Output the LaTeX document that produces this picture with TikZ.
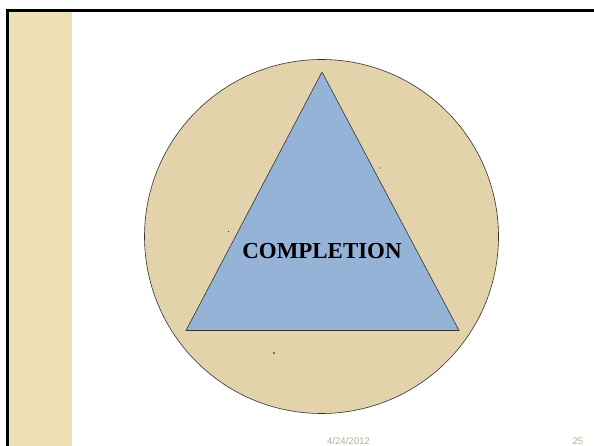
\documentclass[tikz,border=0pt]{standalone}
\usepackage{fontspec}
\setmainfont{Liberation Serif}
\newfontfamily\footfont{Liberation Sans}
\definecolor{stripc}{RGB}{240,224,184}
\definecolor{circc}{RGB}{227,211,170}
\definecolor{tric}{RGB}{149,179,215}
\definecolor{footc}{RGB}{185,172,148}
\tikzset{
  frameline/.style={line width=2.2bp, black},
  outline/.style={line width=0.6bp, draw=black!80},
  footer/.style={font=\footfont\fontsize{9.6}{11}\selectfont, text=footc, inner sep=0pt},
}
\begin{document}
\begin{tikzpicture}[x=1bp,y=-1bp]
\useasboundingbox (0,0) rectangle (594,446);
\fill[white] (0,0) rectangle (594,446);
% left strip
\fill[stripc] (8.5,11) rectangle (72,446);
% frame
\draw[frameline] (7.5,446) -- (7.5,10.5) -- (594,10.5);
% circle
\fill[circc] (321.5,236.5) circle (177);
\draw[outline] (321.5,236.5) circle (177);
% triangle
\coordinate (apex) at (322,72);
\coordinate (bl) at (186,330.5);
\coordinate (br) at (459,330.5);
\filldraw[fill=tric, outline] (apex) -- (bl) -- (br) -- cycle;
% text
\node[font=\bfseries\fontsize{23}{27}\selectfont, inner sep=0pt] (label) at (322,251.5) {COMPLETION};
% tiny dots
\fill[violet!70!blue] (380,168) circle (0.7);
\fill[black!80!violet] (274,353) circle (0.9);
\fill[green!40!black] (228.5,231.5) circle (0.6);
% footer
\node[footer, anchor=west] (date) at (327,441.5) {4/24/2012};
\node[footer, anchor=east] (page) at (583.5,441.5) {25};
\end{tikzpicture}
\end{document}
